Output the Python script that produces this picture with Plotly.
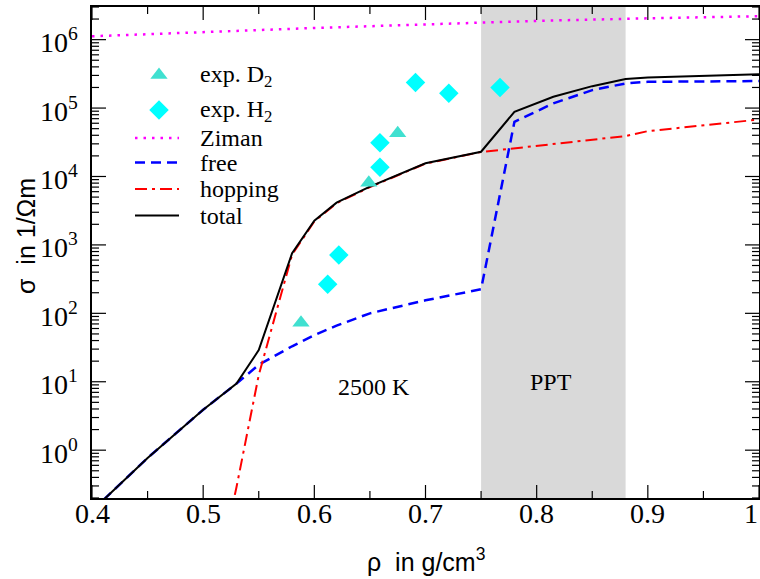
import numpy as np
import plotly.graph_objects as go

# Conductivity of fluid hydrogen at 2500 K versus density
rho_ziman = [0.40, 0.50, 0.60, 0.70, 0.80, 0.90, 1.00]
sigma_ziman = [1.12e6, 1.30e6, 1.48e6, 1.67e6, 1.88e6, 2.05e6, 2.20e6]

rho_free = [0.40, 0.45, 0.50, 0.53, 0.55, 0.58, 0.60, 0.62, 0.65, 0.70, 0.75,
            0.78, 0.815, 0.85, 0.88, 0.90, 1.00]
sigma_free = [0.13, 0.77, 3.9, 9.4, 17.7, 33, 48, 66, 100, 155, 225,
              63000, 117000, 183000, 229000, 242000, 248000]

rho_hop = [0.50, 0.53, 0.55, 0.58, 0.60, 0.62, 0.65, 0.70, 0.75,
           0.78, 0.815, 0.85, 0.88, 0.90, 1.00]
sigma_hop = [0.0016, 0.29, 12.5, 720, 2210, 4070, 7000, 15450, 22800,
             25900, 29900, 34400, 39000, 46000, 68000]

rho_total = [0.40, 0.45, 0.50, 0.53, 0.55, 0.58, 0.60, 0.62, 0.65, 0.70, 0.75,
             0.78, 0.815, 0.85, 0.88, 0.90, 1.00]
sigma_total = [0.13, 0.77, 3.9, 9.4, 29, 757, 2260, 4140, 7100, 15600, 23000,
               88000, 146000, 209000, 265000, 280000, 313000]

rho_d2 = [0.588, 0.649, 0.675]
sigma_d2 = [73, 8100, 42700]

rho_h2 = [0.612, 0.622, 0.659, 0.659, 0.691, 0.721, 0.767]
sigma_h2 = [267, 714, 13600, 31100, 237000, 164000, 200000]

ppt_range = [0.75, 0.88]
x_ticks = [0.4, 0.5, 0.6, 0.7, 0.8, 0.9, 1.0]
x_tick_text = ["0.4", "0.5", "0.6", "0.7", "0.8", "0.9", "1"]
x_minor_ticks = [0.45, 0.55, 0.65, 0.75, 0.85, 0.95]
y_ticks = [1e0, 1e1, 1e2, 1e3, 1e4, 1e5, 1e6]
y_tick_text = ["10<sup>%d</sup>" % int(round(np.log10(v))) for v in y_ticks]

x_range = [0.4, 1.0]
y_lo, y_hi = 0.2, 3e6
y_minor_ticks = [m * 10.0 ** e for e in range(-1, 7) for m in range(2, 10)
                 if y_lo <= m * 10.0 ** e <= y_hi]

serif = "Liberation Serif"
sans = "Liberation Sans"

# plot area in pixels (used for the hand-placed key)
L, R, T, B = 92, 759, 7, 498


def paper_x(px):
    return (px - L) / (R - L)


def paper_y(py):
    return (B - py) / (B - T)


styles = {
    "ziman": dict(color="#FF00FF", width=2.5, dash="2.5px,6px"),
    "free": dict(color="#0000FF", width=2.5, dash="10px,6px"),
    "hopping": dict(color="#FF0000", width=2, dash="12px,5px,3px,5px"),
    "total": dict(color="black", width=2),
}

fig = go.Figure()

fig.add_trace(go.Scatter(x=rho_ziman, y=sigma_ziman, mode="lines", name="Ziman",
                         line=styles["ziman"]))
fig.add_trace(go.Scatter(x=rho_free, y=sigma_free, mode="lines", name="free",
                         line=styles["free"]))
fig.add_trace(go.Scatter(x=rho_hop, y=sigma_hop, mode="lines", name="hopping",
                         line=styles["hopping"]))
fig.add_trace(go.Scatter(x=rho_total, y=sigma_total, mode="lines", name="total",
                         line=styles["total"]))
fig.add_trace(go.Scatter(x=rho_d2, y=sigma_d2, mode="markers", name="exp. D2",
                         marker=dict(symbol="triangle-up", size=15, color="#40E0D0")))
fig.add_trace(go.Scatter(x=rho_h2, y=sigma_h2, mode="markers", name="exp. H2",
                         marker=dict(symbol="diamond", size=15, color="#00FFFF")))

# plasma phase transition region
fig.add_shape(type="rect", xref="x", yref="paper", x0=ppt_range[0], x1=ppt_range[1],
              y0=0, y1=1, fillcolor="#D9D9D9", line=dict(width=0), layer="below")

fig.add_annotation(x=0.654, y=0.93, xref="x", yref="y", text="2500 K", showarrow=False,
                   font=dict(family=serif, size=24, color="black"))
fig.add_annotation(x=0.8125, y=1.0, xref="x", yref="y", text="PPT", showarrow=False,
                   font=dict(family=serif, size=24, color="black"))

# key: symbols on a hidden overlay axis spanning the plot area, lines as shapes
key_sym_x, key_line_x0, key_line_x1, key_text_x = 159, 135, 179, 198
key_markers = [("exp. D<sub>2</sub>", "triangle-up", "#40E0D0", 75),
               ("exp. H<sub>2</sub>", "diamond", "#00FFFF", 110)]
key_lines = [("Ziman", "ziman", 138), ("free", "free", 162.5),
             ("hopping", "hopping", 189), ("total", "total", 215.5)]

fig.add_trace(go.Scatter(
    x=[paper_x(key_sym_x)] * len(key_markers),
    y=[paper_y(m[3]) for m in key_markers],
    xaxis="x2", yaxis="y2", mode="markers", showlegend=False, hoverinfo="skip",
    marker=dict(symbol=[m[1] for m in key_markers], size=15,
                color=[m[2] for m in key_markers])))
for label, _, _, py in key_markers:
    fig.add_annotation(x=paper_x(key_text_x), y=paper_y(py + 1), xref="paper", yref="paper",
                       text=label, showarrow=False, xanchor="left", yanchor="middle",
                       font=dict(family=serif, size=24, color="black"))
for label, key, py in key_lines:
    fig.add_shape(type="line", xref="paper", yref="paper",
                  x0=paper_x(key_line_x0), x1=paper_x(key_line_x1),
                  y0=paper_y(py), y1=paper_y(py), line=styles[key])
    fig.add_annotation(x=paper_x(key_text_x), y=paper_y(py), xref="paper", yref="paper",
                       text=label, showarrow=False, xanchor="left", yanchor="middle",
                       font=dict(family=serif, size=24, color="black"))

# axis titles
fig.add_annotation(x=0.5, y=paper_y(560), xref="paper", yref="paper",
                   text="ρ  in g/cm<sup>3</sup>", showarrow=False,
                   xanchor="center", yanchor="middle",
                   font=dict(family=sans, size=25, color="black"))
fig.add_annotation(x=paper_x(26), y=paper_y(236), xref="paper", yref="paper",
                   text="σ  in 1/Ωm", showarrow=False, textangle=-90,
                   xanchor="center", yanchor="middle",
                   font=dict(family=sans, size=25, color="black"))

# tick marks (inside, on all four sides), placed on the axes' own scales
tick_line = dict(color="black", width=1.2)


def x_tick(v, length):
    for anchor, sign in ((0, 1), (1, -1)):
        fig.add_shape(type="line", xref="x", x0=v, x1=v, yref="paper",
                      ysizemode="pixel", yanchor=anchor, y0=0, y1=sign * length,
                      line=tick_line)


def y_tick(v, length):
    for anchor, sign in ((0, 1), (1, -1)):
        fig.add_shape(type="line", yref="y", y0=v, y1=v, xref="paper",
                      xsizemode="pixel", xanchor=anchor, x0=0, x1=sign * length,
                      line=tick_line)


for v in x_ticks:
    x_tick(v, 13)
for v in x_minor_ticks:
    x_tick(v, 7)
for v in y_ticks:
    y_tick(v, 14)
for v in y_minor_ticks:
    y_tick(v, 7)

# tick labels; the last one is kept inside the page edge
tick_font = dict(family=serif, size=28, color="black")
for i, (v, t) in enumerate(zip(x_ticks, x_tick_text)):
    last = i == len(x_ticks) - 1
    fig.add_annotation(x=v, y=0, xref="x", yref="paper", text=t, showarrow=False,
                       xanchor="right" if last else "center", xshift=1 if last else 0,
                       yanchor="top", yshift=2, font=tick_font)
for v, t in zip(y_ticks, y_tick_text):
    fig.add_annotation(x=0, y=np.log10(v), xref="paper", yref="y", text=t,
                       showarrow=False, xanchor="right", yanchor="middle",
                       xshift=-12, yshift=-1, font=tick_font)

fig.update_layout(
    width=760, height=579,
    margin=dict(l=L, r=760 - R, t=T, b=579 - B),
    plot_bgcolor="white", paper_bgcolor="white",
    font=dict(family=serif, size=27, color="black"),
    showlegend=False,
    xaxis=dict(range=x_range, showticklabels=False, ticks="",
               showline=True, linecolor="black", linewidth=1.5, mirror=True,
               showgrid=False, zeroline=False, automargin=False),
    yaxis=dict(type="log", range=[np.log10(y_lo), np.log10(y_hi)],
               showticklabels=False, ticks="",
               showline=True, linecolor="black", linewidth=1.5, mirror=True,
               showgrid=False, zeroline=False, automargin=False),
    # key symbols
    xaxis2=dict(overlaying="x", range=[0, 1], visible=False, fixedrange=True),
    yaxis2=dict(overlaying="y", range=[0, 1], visible=False, fixedrange=True),
)

fig.write_html("out.html")
